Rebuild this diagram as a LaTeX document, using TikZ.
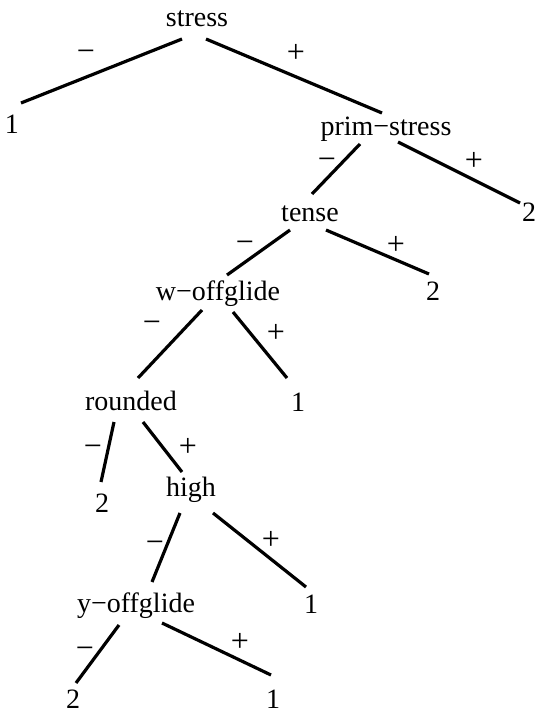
\documentclass[tikz,border=0pt]{standalone}
\usepackage{fontspec}
\setmainfont{Liberation Serif}
\tikzset{
  feat/.style={anchor=base, inner sep=0pt, font=\fontsize{28}{34}\selectfont},
  lbl/.style={anchor=center, inner sep=0pt, font=\fontsize{32}{38}\selectfont},
  branch/.style={line width=3.2pt}
}
\begin{document}
\begin{tikzpicture}[x=1pt,y=-1pt]
      \useasboundingbox (0,0) rectangle (535,715);
      % features and leaves
      \node[feat] (stress) at (197,26) {stress};
      \node[feat] (leafa) at (12,133) {1};
      \node[feat] (prim) at (386,135) {prim−stress};
      \node[feat] (tense) at (310,221) {tense};
      \node[feat] (leafb) at (529,221) {2};
      \node[feat] (woff) at (218,300) {w−offglide};
      \node[feat] (leafc) at (433,300) {2};
      \node[feat] (rounded) at (131,410) {rounded};
      \node[feat] (leafd) at (298,411) {1};
      \node[feat] (leafe) at (102,512) {2};
      \node[feat] (high) at (191,496) {high};
      \node[feat] (yoff) at (136,612) {y−offglide};
      \node[feat] (leaff) at (311,613) {1};
      \node[feat] (leafg) at (73,708) {2};
      \node[feat] (leafh) at (273,708) {1};
      % branches
      \draw[branch] ([shift={(-15,13)}]stress.base) -- ([shift={(9,-30)}]leafa.base);
      \draw[branch] ([shift={(9,13)}]stress.base) -- ([shift={(-4,-22)}]prim.base);
      \draw[branch] ([shift={(-26,9)}]prim.base) -- ([shift={(2,-27)}]tense.base);
      \draw[branch] ([shift={(12,7)}]prim.base) -- ([shift={(-9,-18)}]leafb.base);
      \draw[branch] ([shift={(-20,9)}]tense.base) -- ([shift={(9,-25)}]woff.base);
      \draw[branch] ([shift={(16,9)}]tense.base) -- ([shift={(-4,-26)}]leafc.base);
      \draw[branch] ([shift={(-16,10)}]woff.base) -- ([shift={(7,-32)}]rounded.base);
      \draw[branch] ([shift={(15,12)}]woff.base) -- ([shift={(-11,-33)}]leafd.base);
      \draw[branch] ([shift={(-17,12)}]rounded.base) -- ([shift={(-1,-30)}]leafe.base);
      \draw[branch] ([shift={(12,12)}]rounded.base) -- ([shift={(-9,-24)}]high.base);
      \draw[branch] ([shift={(-11,17)}]high.base) -- ([shift={(16,-30)}]yoff.base);
      \draw[branch] ([shift={(22,17)}]high.base) -- ([shift={(-5,-26)}]leaff.base);
      \draw[branch] ([shift={(-17,13)}]yoff.base) -- ([shift={(3,-25)}]leafg.base);
      \draw[branch] ([shift={(26,11)}]yoff.base) -- ([shift={(-2,-33)}]leafh.base);
      % branch values
      \node[lbl] at (86,56) {−};
      \node[lbl] at (296,53) {+};
      \node[lbl] at (327,164) {−};
      \node[lbl] at (474,161) {+};
      \node[lbl] at (245,247) {−};
      \node[lbl] at (396,245) {+};
      \node[lbl] at (152,327) {−};
      \node[lbl] at (276,333) {+};
      \node[lbl] at (93,451) {−};
      \node[lbl] at (188,447) {+};
      \node[lbl] at (155,547) {−};
      \node[lbl] at (271,540) {+};
      \node[lbl] at (85,653) {−};
      \node[lbl] at (240,642) {+};
    \end{tikzpicture}
\end{document}
